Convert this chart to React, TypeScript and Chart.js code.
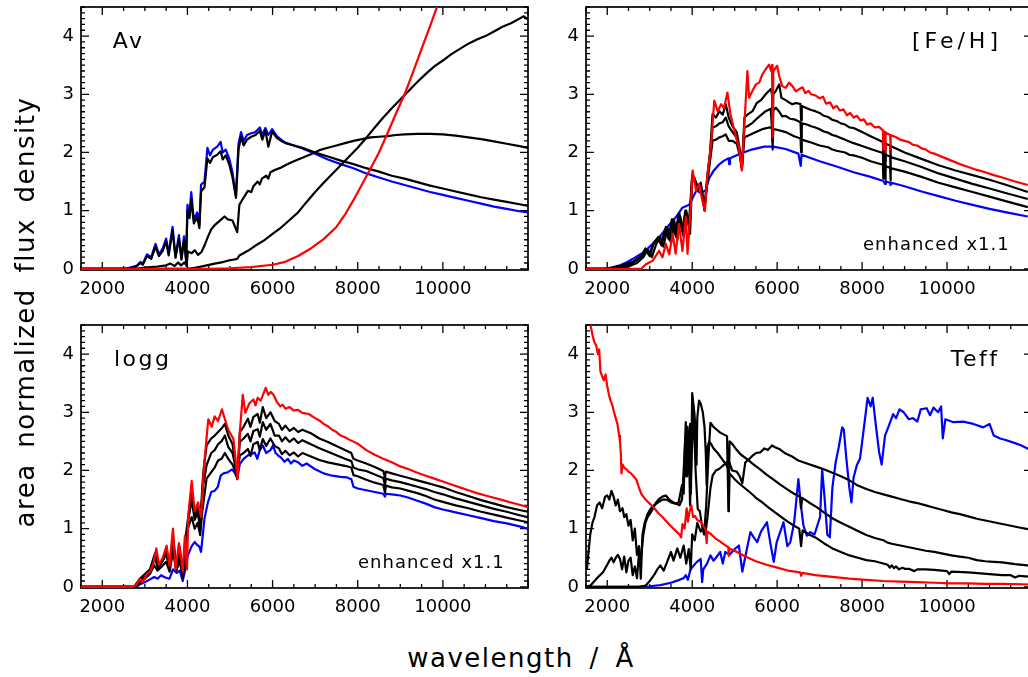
import React, { useEffect, useRef } from 'react';
import { Chart, registerables } from 'chart.js';
Chart.register(...registerables);

type P = [number, number][];

const X_TICKS = [2000, 4000, 6000, 8000, 10000];
const Y_TICKS = [0, 1, 2, 3, 4];
const X_MIN = 1500, X_MAX = 12000, Y_MIN = -0.02, Y_MAX = 4.5;
const FONT = '"DejaVu Sans", "Liberation Sans", sans-serif';

// ---------- Panel "Av" ----------
const AV_BLUE: P = [[1500,0],[2500,0],[2650,0.02],[2800,0.05],[2900,0.12],[2950,0.08],[3050,0.25],[3150,0.2],[3250,0.43],[3330,0.25],[3420,0.35],[3500,0.52],[3560,0.27],[3650,0.72],[3720,0.22],[3800,0.58],[3860,0.18],[3920,0.56],[3970,0.15],[4000,1.1],[4050,0.95],[4090,1.32],[4150,0.85],[4230,0.97],[4280,0.75],[4320,1.45],[4400,1.5],[4470,2.08],[4530,1.95],[4600,2.05],[4700,2.1],[4780,2.18],[4830,2.0],[4900,2.05],[4980,1.9],[5060,1.65],[5140,1.25],[5200,2.15],[5260,2.35],[5320,2.2],[5400,2.3],[5500,2.33],[5600,2.35],[5700,2.43],[5760,2.3],[5830,2.42],[5900,2.3],[5990,2.4],[6100,2.28],[6200,2.22],[6300,2.17],[6500,2.12],[6700,2.07],[7000,1.98],[7300,1.88],[7600,1.8],[7900,1.73],[8200,1.64],[8500,1.57],[8800,1.5],[9100,1.44],[9400,1.38],[9700,1.32],[10000,1.27],[10300,1.22],[10600,1.17],[10900,1.12],[11200,1.07],[11500,1.03],[11800,0.99],[12000,0.97]];
const AV_BLACK1: P = [[1500,0],[2600,0],[2800,0.04],[2900,0.1],[2950,0.07],[3050,0.22],[3150,0.17],[3250,0.38],[3330,0.22],[3420,0.31],[3500,0.47],[3560,0.23],[3650,0.66],[3720,0.19],[3800,0.52],[3860,0.16],[3920,0.5],[3970,0.13],[4000,1.0],[4050,0.87],[4090,1.2],[4150,0.78],[4230,0.9],[4280,0.7],[4320,1.33],[4400,1.4],[4470,1.9],[4530,1.82],[4600,1.92],[4700,1.96],[4780,2.02],[4830,1.88],[4900,1.95],[4980,1.8],[5060,1.57],[5140,1.22],[5200,2.05],[5260,2.27],[5320,2.12],[5400,2.22],[5500,2.27],[5600,2.3],[5700,2.37],[5760,2.22],[5830,2.38],[5900,2.1],[5990,2.36],[6100,2.25],[6200,2.2],[6300,2.16],[6500,2.12],[6700,2.08],[7000,2.0],[7300,1.93],[7600,1.86],[7900,1.8],[8200,1.73],[8500,1.67],[8800,1.6],[9100,1.55],[9400,1.49],[9700,1.43],[10000,1.38],[10300,1.33],[10600,1.28],[10900,1.23],[11200,1.19],[11500,1.15],[11800,1.11],[12000,1.08]];
const AV_BLACK2: P = [[1500,0],[2800,0],[3000,0.02],[3300,0.04],[3500,0.06],[3600,0.09],[3700,0.05],[3780,0.11],[3850,0.06],[3930,0.11],[3980,0.05],[4010,0.3],[4100,0.27],[4170,0.32],[4250,0.24],[4330,0.29],[4400,0.4],[4480,0.55],[4560,0.68],[4640,0.75],[4750,0.82],[4870,0.9],[4950,0.85],[5060,0.83],[5130,0.7],[5170,0.63],[5220,1.1],[5300,1.2],[5420,1.34],[5500,1.32],[5550,1.42],[5650,1.5],[5700,1.45],[5750,1.55],[5850,1.6],[5900,1.55],[5950,1.66],[6050,1.7],[6200,1.74],[6360,1.8],[6500,1.85],[6700,1.91],[6900,1.97],[7100,2.04],[7300,2.08],[7500,2.12],[7700,2.16],[7900,2.2],[8100,2.23],[8300,2.26],[8500,2.27],[8700,2.28],[8900,2.3],[9100,2.31],[9400,2.32],[9700,2.32],[10000,2.31],[10300,2.29],[10600,2.26],[10900,2.23],[11200,2.19],[11500,2.15],[11800,2.11],[12000,2.08]];
const AV_BLACK3: P = [[1500,0],[3500,0],[4000,0],[4200,0.02],[4400,0.05],[4640,0.09],[4800,0.11],[4950,0.14],[5100,0.16],[5170,0.17],[5220,0.23],[5420,0.31],[5600,0.4],[5800,0.49],[6000,0.6],[6200,0.71],[6400,0.84],[6600,0.97],[6800,1.15],[7000,1.32],[7200,1.48],[7400,1.63],[7600,1.78],[7800,1.93],[8000,2.08],[8200,2.25],[8400,2.43],[8600,2.6],[8800,2.76],[9000,2.91],[9200,3.06],[9400,3.21],[9600,3.35],[9800,3.48],[10000,3.58],[10200,3.69],[10400,3.78],[10600,3.87],[10800,3.94],[11000,4.0],[11200,4.08],[11400,4.16],[11600,4.22],[11800,4.3],[11900,4.34],[12000,4.29]];
const AV_RED: P = [[1500,0],[4500,0],[5000,0.01],[5500,0.03],[6000,0.07],[6300,0.12],[6600,0.22],[6900,0.35],[7200,0.51],[7500,0.72],[7700,0.93],[7900,1.18],[8100,1.45],[8300,1.72],[8500,2.0],[8700,2.33],[8900,2.67],[9100,3.0],[9300,3.38],[9500,3.78],[9700,4.17],[9900,4.58]];

// ---------- Panel "[Fe/H]" ----------
const FE_BLUE: P = [[1500,0],[1900,0],[2100,0.02],[2300,0.06],[2450,0.11],[2650,0.19],[2870,0.29],[3070,0.43],[3220,0.54],[3460,0.76],[3620,0.89],[3770,1.05],[3930,1.1],[4000,1.2],[4100,1.35],[4200,1.3],[4320,1.35],[4400,1.56],[4500,1.68],[4630,1.79],[4750,1.86],[4860,1.9],[4870,1.8],[4890,1.9],[5100,1.97],[5400,2.05],[5700,2.1],[5880,2.1],[5895,2.05],[5910,2.1],[6200,2.06],[6500,1.98],[6555,1.77],[6575,1.96],[7000,1.85],[7400,1.76],[7800,1.66],[8200,1.58],[8500,1.51],[8540,1.46],[8560,1.5],[8660,1.48],[8670,1.44],[8690,1.48],[9000,1.42],[9400,1.33],[9800,1.25],[10200,1.17],[10600,1.1],[11000,1.03],[11400,0.97],[11900,0.9]];
const FE_BLACK1: P = [[1500,0],[2000,0],[2300,0.05],[2600,0.12],[2800,0.22],[2900,0.35],[2980,0.25],[3100,0.45],[3200,0.52],[3270,0.42],[3360,0.68],[3440,0.52],[3520,0.85],[3600,0.6],[3680,0.93],[3760,0.65],[3840,1.0],[3920,0.75],[4000,1.58],[4060,1.5],[4130,1.42],[4200,1.45],[4290,1.05],[4350,1.45],[4420,1.85],[4480,2.2],[4560,2.22],[4640,2.26],[4720,2.28],[4790,2.31],[4860,2.2],[4950,2.2],[5050,2.15],[5120,1.95],[5170,1.74],[5230,2.26],[5350,2.3],[5500,2.35],[5650,2.4],[5810,2.43],[5880,2.42],[5893,2.1],[5910,2.4],[6000,2.39],[6200,2.35],[6400,2.28],[6550,2.24],[6565,2.0],[6580,2.22],[6800,2.17],[7000,2.12],[7200,2.09],[7300,2.05],[7400,2.03],[7600,2.0],[7700,1.96],[7800,1.95],[8000,1.91],[8200,1.85],[8490,1.79],[8500,1.55],[8520,1.78],[8540,1.77],[8545,1.53],[8560,1.76],[8660,1.74],[8665,1.52],[8680,1.73],[9000,1.67],[9400,1.58],[9800,1.48],[10200,1.4],[10600,1.32],[11000,1.24],[11400,1.16],[11900,1.06]];
const FE_BLACK2: P = [[1500,0],[2200,0],[2400,0.04],[2600,0.1],[2800,0.2],[2900,0.33],[3000,0.22],[3100,0.45],[3200,0.55],[3280,0.4],[3380,0.72],[3460,0.5],[3540,0.85],[3620,0.55],[3700,0.95],[3780,0.6],[3860,1.0],[3940,0.7],[4000,1.62],[4060,1.55],[4130,1.4],[4200,1.48],[4290,1.02],[4350,1.5],[4420,1.95],[4480,2.43],[4560,2.45],[4640,2.5],[4720,2.52],[4790,2.6],[4860,2.45],[4950,2.35],[5050,2.25],[5120,2.0],[5170,1.71],[5230,2.43],[5300,2.45],[5420,2.51],[5550,2.6],[5730,2.71],[5850,2.75],[5893,2.2],[5910,2.72],[5970,2.77],[6050,2.7],[6120,2.62],[6200,2.63],[6300,2.58],[6400,2.57],[6550,2.52],[6565,2.25],[6580,2.5],[6700,2.48],[6800,2.45],[6900,2.43],[7000,2.4],[7100,2.36],[7200,2.34],[7300,2.3],[7400,2.28],[7600,2.22],[7800,2.16],[8000,2.11],[8200,2.06],[8490,1.99],[8500,1.72],[8520,1.98],[8540,1.97],[8545,1.7],[8560,1.96],[8660,1.93],[8665,1.7],[8680,1.92],[9000,1.85],[9400,1.75],[9800,1.64],[10200,1.55],[10600,1.46],[11000,1.38],[11400,1.3],[11900,1.2]];
const FE_BLACK3: P = [[1500,0],[2300,0],[2500,0.04],[2700,0.1],[2850,0.2],[2950,0.33],[3050,0.2],[3150,0.42],[3250,0.55],[3320,0.38],[3420,0.7],[3500,0.45],[3580,0.82],[3650,0.5],[3720,0.9],[3800,0.55],[3880,0.95],[3950,0.6],[4000,1.6],[4060,1.52],[4130,1.35],[4200,1.45],[4290,1.0],[4350,1.55],[4420,2.0],[4480,2.66],[4560,2.6],[4640,2.71],[4720,2.65],[4790,2.83],[4860,2.6],[4950,2.45],[5050,2.35],[5120,2.05],[5170,1.74],[5230,2.6],[5300,2.65],[5420,2.71],[5520,2.85],[5620,2.9],[5730,3.0],[5850,3.09],[5880,3.0],[5893,2.3],[5910,3.0],[5970,3.06],[6050,3.17],[6100,2.94],[6200,2.9],[6280,2.86],[6360,2.83],[6450,2.85],[6550,2.83],[6565,2.55],[6580,2.8],[6700,2.76],[6800,2.73],[6900,2.71],[7000,2.68],[7100,2.63],[7200,2.61],[7300,2.56],[7400,2.54],[7500,2.5],[7600,2.48],[7700,2.43],[7800,2.42],[8000,2.35],[8200,2.28],[8490,2.18],[8500,1.9],[8520,2.17],[8540,2.16],[8545,1.85],[8560,2.15],[8660,2.12],[8665,1.9],[8680,2.11],[9000,2.0],[9400,1.89],[9800,1.78],[10200,1.69],[10600,1.61],[11000,1.53],[11400,1.44],[11900,1.32]];
const FE_RED: P = [[1500,0],[2800,0],[2910,0.08],[3070,0.14],[3220,0.31],[3300,0.2],[3380,0.43],[3460,0.25],[3540,0.6],[3610,0.26],[3690,0.77],[3770,0.31],[3850,0.89],[3890,0.26],[3970,1.11],[4010,1.69],[4090,1.34],[4165,1.46],[4240,1.17],[4300,1.0],[4360,1.63],[4440,2.09],[4520,2.89],[4600,2.71],[4680,2.83],[4750,2.76],[4830,3.03],[4900,2.66],[5030,2.26],[5100,2.09],[5170,1.69],[5220,2.37],[5300,3.4],[5340,2.94],[5420,3.06],[5500,3.17],[5580,3.2],[5650,3.34],[5730,3.43],[5810,3.51],[5860,3.4],[5880,3.5],[5893,2.26],[5910,3.4],[6000,3.49],[6050,3.31],[6120,3.14],[6200,3.11],[6280,3.2],[6360,3.14],[6440,3.05],[6520,3.09],[6600,3.12],[6660,3.02],[6740,3.06],[6800,3.0],[6900,2.98],[7000,2.93],[7080,2.96],[7150,2.84],[7250,2.86],[7320,2.76],[7400,2.8],[7480,2.72],[7560,2.74],[7640,2.64],[7720,2.68],[7800,2.6],[7880,2.63],[7960,2.55],[8040,2.57],[8120,2.48],[8200,2.5],[8300,2.43],[8400,2.44],[8490,2.38],[8500,2.05],[8520,2.36],[8540,2.35],[8545,2.0],[8560,2.34],[8660,2.3],[8665,2.05],[8680,2.3],[8800,2.26],[8900,2.22],[9000,2.2],[9100,2.18],[9200,2.13],[9300,2.12],[9400,2.07],[9500,2.05],[9600,2.0],[9700,1.98],[9900,1.92],[10100,1.86],[10300,1.8],[10500,1.75],[10700,1.7],[10900,1.66],[11100,1.61],[11300,1.57],[11600,1.5],[11900,1.44]];

// ---------- Panel "logg" ----------
const LG_BLUE: P = [[1500,0],[2800,0],[2900,0.05],[3000,0.08],[3100,0.12],[3220,0.17],[3300,0.14],[3380,0.2],[3480,0.16],[3580,0.14],[3660,0.3],[3750,0.24],[3820,0.28],[3890,0.1],[3950,0.3],[4010,0.54],[4100,0.7],[4170,0.77],[4230,0.72],[4280,0.69],[4320,0.6],[4400,1.17],[4480,1.45],[4560,1.63],[4640,1.65],[4710,1.71],[4780,1.91],[4850,1.95],[4950,1.97],[5050,2.02],[5120,1.95],[5170,1.86],[5230,2.11],[5320,2.2],[5420,2.26],[5500,2.28],[5580,2.31],[5640,2.2],[5700,2.35],[5770,2.43],[5850,2.3],[5950,2.35],[6010,2.43],[6070,2.3],[6125,2.26],[6200,2.22],[6280,2.15],[6360,2.2],[6430,2.12],[6500,2.17],[6600,2.14],[6700,2.08],[6800,2.12],[7000,2.02],[7200,1.95],[7400,1.91],[7600,1.89],[7750,1.88],[7850,1.85],[7900,1.72],[8000,1.69],[8200,1.66],[8400,1.63],[8600,1.6],[8640,1.55],[8660,1.6],[8800,1.59],[9000,1.57],[9200,1.53],[9400,1.48],[9600,1.43],[9800,1.37],[10000,1.33],[10300,1.28],[10600,1.23],[10900,1.18],[11200,1.13],[11500,1.09],[11800,1.04],[12000,1.0]];
const LG_BLACK1: P = [[1500,0],[2800,0],[2900,0.1],[3000,0.14],[3120,0.22],[3220,0.37],[3300,0.28],[3400,0.35],[3500,0.43],[3580,0.26],[3660,0.6],[3740,0.28],[3820,0.45],[3890,0.15],[3950,0.5],[4010,1.0],[4100,1.2],[4170,1.0],[4240,1.1],[4300,0.89],[4350,1.3],[4450,1.86],[4560,1.97],[4640,2.05],[4720,2.17],[4800,2.2],[4880,2.3],[4960,2.2],[5060,2.1],[5130,1.98],[5170,1.9],[5230,2.26],[5320,2.3],[5420,2.37],[5480,2.25],[5550,2.45],[5650,2.49],[5700,2.35],[5770,2.54],[5850,2.42],[5950,2.55],[6050,2.42],[6150,2.38],[6220,2.28],[6300,2.34],[6400,2.26],[6500,2.31],[6600,2.24],[6700,2.3],[6900,2.24],[7100,2.18],[7300,2.14],[7500,2.11],[7700,2.08],[7850,2.05],[7900,1.92],[8000,1.9],[8200,1.84],[8400,1.79],[8600,1.75],[8640,1.62],[8660,1.74],[8800,1.71],[9000,1.69],[9200,1.65],[9400,1.61],[9600,1.56],[9800,1.5],[10000,1.46],[10300,1.4],[10600,1.35],[10900,1.29],[11200,1.24],[11500,1.19],[11800,1.14],[12000,1.11]];
const LG_BLACK2: P = [[1500,0],[2750,0],[2880,0.12],[3000,0.17],[3120,0.26],[3230,0.5],[3310,0.32],[3400,0.42],[3500,0.57],[3580,0.3],[3660,0.8],[3740,0.29],[3820,0.6],[3890,0.2],[3950,0.7],[4010,1.1],[4100,1.5],[4170,1.15],[4240,1.28],[4300,1.0],[4360,1.7],[4450,2.09],[4560,2.3],[4640,2.35],[4720,2.45],[4800,2.5],[4880,2.6],[4960,2.4],[5060,2.3],[5130,2.05],[5170,1.87],[5230,2.49],[5320,2.55],[5420,2.63],[5480,2.5],[5550,2.68],[5650,2.71],[5700,2.58],[5770,2.83],[5850,2.7],[5950,2.8],[6050,2.6],[6150,2.6],[6220,2.5],[6300,2.57],[6400,2.49],[6500,2.55],[6600,2.47],[6700,2.52],[6900,2.45],[7100,2.38],[7300,2.32],[7500,2.26],[7700,2.2],[7850,2.16],[7900,2.05],[8000,2.02],[8200,1.99],[8400,1.93],[8600,1.87],[8640,1.75],[8660,1.86],[8800,1.83],[9000,1.8],[9200,1.76],[9400,1.72],[9600,1.68],[9800,1.63],[10000,1.59],[10300,1.52],[10600,1.46],[10900,1.4],[11200,1.34],[11500,1.29],[11800,1.23],[12000,1.2]];
const LG_BLACK3: P = [[1500,0],[2750,0],[2880,0.14],[3000,0.22],[3120,0.3],[3240,0.58],[3320,0.36],[3420,0.45],[3510,0.64],[3580,0.33],[3660,0.9],[3740,0.3],[3820,0.68],[3890,0.22],[3950,0.8],[4010,1.15],[4100,1.65],[4170,1.22],[4240,1.35],[4300,1.1],[4370,1.95],[4450,2.43],[4560,2.55],[4640,2.6],[4720,2.66],[4800,2.72],[4880,2.8],[4960,2.6],[5060,2.45],[5130,2.1],[5170,1.85],[5230,2.66],[5320,2.75],[5420,2.89],[5480,2.75],[5550,2.92],[5650,2.97],[5700,2.82],[5770,3.09],[5850,2.9],[5950,3.0],[6050,2.85],[6150,2.8],[6220,2.7],[6300,2.77],[6400,2.68],[6500,2.73],[6600,2.66],[6700,2.7],[6900,2.64],[7100,2.55],[7300,2.49],[7500,2.42],[7700,2.35],[7850,2.3],[7900,2.2],[8000,2.17],[8200,2.12],[8400,2.06],[8600,1.99],[8640,1.88],[8660,1.98],[8800,1.95],[9000,1.91],[9200,1.87],[9400,1.83],[9600,1.79],[9800,1.75],[10000,1.71],[10300,1.63],[10600,1.56],[10900,1.49],[11200,1.43],[11500,1.37],[11800,1.32],[12000,1.29]];
const LG_RED: P = [[1500,0],[2700,0],[2800,0.03],[2880,0.14],[2950,0.08],[3050,0.22],[3120,0.26],[3200,0.4],[3270,0.66],[3330,0.38],[3420,0.5],[3510,0.71],[3580,0.36],[3660,1.0],[3720,0.3],[3800,0.75],[3850,0.5],[3890,0.26],[3940,0.88],[3990,0.3],[4020,1.23],[4100,1.82],[4170,1.3],[4250,1.45],[4320,1.2],[4390,2.08],[4490,2.88],[4570,2.75],[4640,2.93],[4720,2.85],[4810,3.05],[4880,2.88],[4960,2.7],[5080,2.54],[5130,2.2],[5175,1.85],[5230,2.65],[5300,3.3],[5360,2.99],[5450,3.15],[5550,3.22],[5600,3.12],[5650,3.25],[5720,3.2],[5790,3.33],[5840,3.42],[5900,3.3],[5960,3.35],[6020,3.3],[6100,3.18],[6180,3.1],[6240,3.13],[6300,3.06],[6400,3.09],[6500,3.03],[6600,3.04],[6700,2.99],[6850,2.97],[7000,2.9],[7100,2.86],[7200,2.8],[7300,2.76],[7400,2.7],[7500,2.66],[7600,2.6],[7700,2.57],[7800,2.53],[8000,2.46],[8200,2.35],[8400,2.27],[8600,2.2],[8800,2.14],[9000,2.07],[9200,2.02],[9400,1.96],[9600,1.91],[9800,1.86],[10000,1.81],[10200,1.76],[10400,1.71],[10600,1.66],[10800,1.61],[11000,1.57],[11200,1.53],[11400,1.49],[11600,1.45],[11800,1.41],[12000,1.37]];

// ---------- Panel "Teff" ----------
const TE_RED: P = [[1560,4.6],[1620,4.45],[1660,4.3],[1700,4.2],[1740,4.15],[1780,4.0],[1810,4.08],[1840,3.7],[1880,3.62],[1920,3.55],[1960,3.65],[2000,3.45],[2040,3.3],[2080,3.2],[2120,3.12],[2160,3.0],[2200,2.9],[2240,2.8],[2280,2.6],[2300,2.5],[2320,2.3],[2335,1.95],[2360,2.1],[2400,2.05],[2450,2.02],[2500,1.98],[2560,1.95],[2620,1.9],[2680,1.85],[2740,1.72],[2800,1.6],[2850,1.55],[2900,1.5],[3000,1.43],[3100,1.36],[3200,1.27],[3300,1.2],[3400,1.12],[3500,1.04],[3600,0.97],[3700,0.9],[3740,0.85],[3770,1.08],[3820,1.0],[3870,1.35],[3900,1.12],[3940,1.3],[3980,1.4],[4020,1.2],[4060,1.22],[4120,1.15],[4200,1.12],[4260,1.05],[4320,0.98],[4340,0.75],[4360,0.95],[4450,0.9],[4550,0.83],[4650,0.78],[4750,0.73],[4850,0.68],[4862,0.53],[4880,0.66],[5000,0.62],[5250,0.52],[5500,0.44],[5750,0.38],[6000,0.33],[6250,0.28],[6540,0.25],[6563,0.19],[6590,0.24],[6900,0.2],[7300,0.17],[7700,0.14],[8100,0.12],[8500,0.1],[8900,0.09],[9300,0.08],[9700,0.07],[10100,0.06],[10500,0.06],[10900,0.05],[11300,0.05],[12000,0.04]];
const TE_BLACK_HOT: P = [[1520,0.3],[1560,0.6],[1600,0.9],[1650,1.1],[1700,1.2],[1760,1.4],[1820,1.45],[1880,1.35],[1950,1.55],[2000,1.57],[2050,1.5],[2100,1.65],[2150,1.55],[2200,1.4],[2250,1.5],[2300,1.3],[2360,1.35],[2400,1.2],[2450,1.25],[2500,1.05],[2550,1.15],[2600,0.8],[2650,1.0],[2700,0.55],[2750,0.7],[2790,0.14],[2830,0.9],[2880,1.1],[2950,1.25],[3020,1.34],[3100,1.4],[3200,1.45],[3300,1.5],[3400,1.5],[3500,1.45],[3600,1.43],[3680,1.45],[3720,1.6],[3760,1.75],[3800,1.6],[3830,2.4],[3860,1.9],[3890,2.75],[3920,2.0],[3950,2.8],[3970,1.6],[4000,3.33],[4050,3.0],[4090,2.6],[4102,2.1],[4120,2.9],[4160,3.2],[4200,3.15],[4250,3.0],[4290,2.75],[4320,2.3],[4340,1.75],[4360,2.4],[4400,2.5],[4450,2.45],[4500,2.38],[4600,2.3],[4700,2.2],[4800,2.1],[4850,2.02],[4861,1.3],[4880,1.95],[5000,1.85],[5100,1.78],[5200,1.72],[5300,1.66],[5400,1.6],[5500,1.53],[5650,1.45],[5800,1.36],[5950,1.28],[6100,1.2],[6250,1.12],[6400,1.05],[6520,1.0],[6563,0.7],[6600,0.97],[6750,0.9],[6900,0.85],[7100,0.75],[7300,0.66],[7500,0.6],[7700,0.54],[7900,0.5],[8100,0.46],[8300,0.44],[8500,0.4],[8600,0.38],[8650,0.33],[8700,0.37],[8750,0.32],[8800,0.35],[8870,0.3],[8950,0.33],[9000,0.31],[9100,0.31],[9230,0.27],[9300,0.3],[9500,0.3],[9700,0.29],[10000,0.27],[10050,0.22],[10100,0.26],[10500,0.25],[11000,0.22],[11300,0.2],[11500,0.2],[11600,0.16],[11700,0.19],[12000,0.17]];
const TE_BLACK_MID: P = [[1500,0],[1600,0.02],[1700,0.1],[1800,0.18],[1900,0.25],[2000,0.38],[2050,0.45],[2100,0.5],[2150,0.42],[2200,0.5],[2250,0.55],[2300,0.48],[2350,0.3],[2400,0.52],[2450,0.25],[2500,0.45],[2550,0.5],[2600,0.2],[2650,0.35],[2700,0.15],[2750,0.6],[2800,0.55],[2850,0.9],[2900,1.1],[2950,1.2],[3000,1.25],[3070,1.34],[3150,1.45],[3220,1.51],[3300,1.55],[3380,1.57],[3460,1.5],[3540,1.46],[3620,1.43],[3700,1.4],[3760,1.5],[3810,2.14],[3850,2.83],[3880,1.9],[3920,2.54],[3950,1.4],[3990,2.3],[4030,3.1],[4080,2.0],[4130,1.34],[4180,1.3],[4230,1.05],[4280,0.9],[4330,1.4],[4380,2.2],[4430,2.82],[4500,2.75],[4580,2.7],[4660,2.65],[4740,2.62],[4820,2.59],[4855,1.3],[4880,2.5],[4950,2.45],[5050,2.35],[5150,2.27],[5300,2.19],[5450,2.1],[5600,2.02],[5750,1.93],[5900,1.85],[6050,1.77],[6230,1.68],[6400,1.6],[6540,1.55],[6563,1.35],[6590,1.53],[6750,1.45],[6930,1.37],[7100,1.28],[7320,1.17],[7500,1.1],[7710,1.03],[7900,0.96],[8100,0.89],[8300,0.84],[8500,0.8],[8600,0.76],[8700,0.74],[8900,0.71],[9100,0.68],[9300,0.65],[9500,0.62],[9700,0.6],[9900,0.57],[10100,0.54],[10300,0.52],[10500,0.5],[10700,0.46],[10900,0.44],[11100,0.43],[11300,0.42],[11600,0.39],[12000,0.36]];
const TE_BLACK_COOL: P = [[1500,0],[2750,0],[2900,0.02],[3000,0.1],[3100,0.2],[3180,0.3],[3250,0.37],[3330,0.28],[3410,0.43],[3500,0.6],[3560,0.45],[3650,0.66],[3720,0.5],[3800,0.71],[3860,0.4],[3920,0.65],[3965,0.3],[4000,0.9],[4060,0.8],[4120,1.1],[4200,0.95],[4250,1.0],[4310,0.9],[4360,1.2],[4430,1.7],[4480,1.91],[4560,2.0],[4640,2.03],[4750,2.1],[4860,2.17],[4940,2.0],[5050,1.98],[5120,1.9],[5180,1.78],[5250,2.14],[5350,2.2],[5430,2.26],[5500,2.3],[5600,2.31],[5700,2.38],[5780,2.35],[5880,2.43],[5950,2.4],[6050,2.37],[6200,2.29],[6350,2.24],[6500,2.17],[6700,2.12],[6900,2.07],[7100,2.02],[7300,1.96],[7500,1.9],[7700,1.83],[7900,1.74],[8100,1.68],[8300,1.63],[8500,1.59],[8700,1.55],[8900,1.51],[9100,1.47],[9300,1.44],[9500,1.4],[9700,1.36],[9900,1.32],[10100,1.28],[10300,1.25],[10500,1.21],[10700,1.17],[10900,1.14],[11100,1.11],[11300,1.08],[11500,1.05],[11700,1.02],[12000,0.98]];
const TE_BLUE: P = [[1500,0],[2700,0],[3000,0.01],[3250,0.03],[3500,0.07],[3700,0.12],[3800,0.15],[3850,0.2],[3900,0.12],[3960,0.3],[4040,0.37],[4100,0.42],[4200,0.48],[4235,0.08],[4260,0.3],[4350,0.4],[4430,0.54],[4500,0.45],[4560,0.5],[4660,0.6],[4720,0.4],[4780,0.6],[4880,0.55],[5000,0.65],[5100,0.71],[5180,0.26],[5290,0.66],[5370,0.94],[5450,0.85],[5530,0.77],[5620,0.95],[5760,1.11],[5840,0.75],[5920,0.43],[5990,0.77],[6150,1.11],[6240,0.7],[6310,0.77],[6400,1.1],[6500,1.85],[6560,1.4],[6620,1.05],[6700,0.88],[6780,0.94],[6880,0.9],[7010,1.2],[7060,2.02],[7120,1.5],[7180,0.9],[7240,0.85],[7300,1.7],[7380,2.15],[7450,2.4],[7530,2.74],[7570,2.7],[7630,2.2],[7700,1.7],[7750,1.45],[7800,1.88],[7880,2.1],[7950,2.2],[8030,2.66],[8130,3.25],[8200,3.1],[8250,3.25],[8320,2.8],[8400,2.32],[8460,2.1],[8540,2.6],[8620,2.75],[8730,2.97],[8800,2.9],[8880,3.05],[8980,3.0],[9100,2.88],[9200,2.9],[9300,2.84],[9380,3.05],[9520,3.07],[9600,2.95],[9680,3.08],[9790,3.0],[9860,3.1],[9900,2.55],[9960,2.88],[10150,2.83],[10380,2.84],[10620,2.8],[10850,2.74],[11000,2.8],[11100,2.6],[11250,2.55],[11400,2.52],[11600,2.47],[11750,2.43],[12000,2.34]];

const RED = '#ff0000', BLUE = '#0000ff', BLACK = '#000000';

type Series = { data: P; color: string };

const framePlugin = {
  id: 'frame',
  beforeDatasetsDraw(chart: any) {
    const o = chart.options.plugins.frame || {};
    const { ctx, chartArea: a, scales } = chart;
    const xs = scales.x, ys = scales.y;
    ctx.save();
    ctx.strokeStyle = '#000';
    ctx.lineWidth = 1.3;
    ctx.beginPath();
    for (let v = X_MIN; v <= X_MAX; v += 500) {
      const px = xs.getPixelForValue(v);
      const len = v % 2000 === 0 ? 8 : 4;
      ctx.moveTo(px, a.bottom); ctx.lineTo(px, a.bottom - len);
      ctx.moveTo(px, a.top); ctx.lineTo(px, a.top + len);
    }
    for (let i = 0; i <= 45; i++) {
      const py = ys.getPixelForValue(i / 10);
      const len = i % 10 === 0 ? 8 : 4;
      ctx.moveTo(a.left, py); ctx.lineTo(a.left + len, py);
      ctx.moveTo(a.right, py); ctx.lineTo(a.right - len, py);
    }
    ctx.stroke();
    ctx.lineWidth = 1.7;
    ctx.strokeRect(a.left, a.top, a.right - a.left, a.bottom - a.top);
    ctx.fillStyle = '#000';
    ctx.textBaseline = 'alphabetic';
    if (o.label) {
      ctx.font = `22px ${FONT}`;
      try { ctx.letterSpacing = o.labelSpacing || '2.5px'; } catch (e) {}
      ctx.textAlign = o.labelAlign;
      ctx.fillText(o.label, a.left + o.labelDx, a.top + 41.3);
    }
    if (o.note) {
      ctx.font = `18px ${FONT}`;
      try { ctx.letterSpacing = '1px'; } catch (e) {}
      ctx.textAlign = 'left';
      ctx.fillText(o.note, a.left + 277, a.top + 243);
    }
    ctx.restore();
  },
};

type PanelProps = {
  left: number; top: number; width: number; height: number; yw: number; padRight: number;
  series: Series[]; label: string; labelAlign: string; labelDx: number; labelSpacing?: string; note?: string;
};

function Panel(p: PanelProps) {
  const ref = useRef<HTMLCanvasElement>(null);
  useEffect(() => {
    const chart = new Chart(ref.current as HTMLCanvasElement, {
      type: 'line',
      data: {
        datasets: p.series.map((s) => ({
          data: s.data.map(([x, y]) => ({ x, y })),
          borderColor: s.color,
          backgroundColor: s.color,
          borderWidth: 2.2,
          borderJoinStyle: 'round',
          pointRadius: 0,
          tension: 0,
          fill: false,
        })),
      },
      options: {
        responsive: false,
        maintainAspectRatio: false,
        animation: false,
        events: [],
        layout: { padding: { left: 0, top: 7, right: p.padRight, bottom: 0 } },
        plugins: {
          legend: { display: false },
          tooltip: { enabled: false },
          frame: { label: p.label, labelAlign: p.labelAlign, labelDx: p.labelDx, labelSpacing: p.labelSpacing, note: p.note },
        } as any,
        scales: {
          x: {
            type: 'linear', min: X_MIN, max: X_MAX,
            grid: { display: false, drawTicks: false }, border: { display: false },
            ticks: { font: { family: FONT, size: 18 }, color: '#000', padding: 9, maxRotation: 0, autoSkip: false, callback: (v: any) => String(v) },
            afterBuildTicks: (s: any) => { s.ticks = X_TICKS.map((v) => ({ value: v })); },
            afterFit: (s: any) => { s.height = 35; s.paddingLeft = 0; s.paddingRight = 0; },
          },
          y: {
            type: 'linear', min: Y_MIN, max: Y_MAX,
            grid: { display: false, drawTicks: false }, border: { display: false },
            ticks: { font: { family: FONT, size: 18 }, color: '#000', padding: 7, autoSkip: false, callback: (v: any) => String(v) },
            afterBuildTicks: (s: any) => { s.ticks = Y_TICKS.map((v) => ({ value: v })); },
            afterFit: (s: any) => { s.width = p.yw; s.paddingTop = 0; s.paddingBottom = 0; },
          },
        } as any,
      },
      plugins: [framePlugin as any],
    });
    return () => chart.destroy();
  }, []);
  return (
    <canvas
      ref={ref}
      width={p.width}
      height={p.height}
      style={{ position: 'absolute', left: p.left, top: p.top, width: p.width, height: p.height }}
    />
  );
}

export default function App() {
  const titleStyle: React.CSSProperties = {
    position: 'absolute', fontFamily: FONT, fontSize: 26, lineHeight: '26px',
    letterSpacing: '1.5px', wordSpacing: '6px', color: '#000', whiteSpace: 'nowrap', textAlign: 'center',
  };
  return (
    <div style={{ position: 'absolute', left: 0, top: 0, width: 1028, height: 677, overflow: 'hidden', background: '#fff' }}>
      <Panel left={0} top={0} width={540} height={305} yw={81} padRight={12}
        label="Av" labelAlign="left" labelDx={31.7}
        series={[
          { data: AV_RED, color: RED },
          { data: AV_BLACK3, color: BLACK },
          { data: AV_BLACK2, color: BLACK },
          { data: AV_BLACK1, color: BLACK },
          { data: AV_BLUE, color: BLUE },
        ]} />
      <Panel left={540} top={0} width={500} height={305} yw={46} padRight={8}
        label="[Fe/H]" labelAlign="right" labelDx={416} labelSpacing="4px" note="enhanced x1.1"
        series={[
          { data: FE_RED, color: RED },
          { data: FE_BLACK3, color: BLACK },
          { data: FE_BLACK2, color: BLACK },
          { data: FE_BLACK1, color: BLACK },
          { data: FE_BLUE, color: BLUE },
        ]} />
      <Panel left={0} top={318} width={540} height={305} yw={81} padRight={12}
        label="logg" labelAlign="left" labelDx={33} note="enhanced x1.1"
        series={[
          { data: LG_RED, color: RED },
          { data: LG_BLACK3, color: BLACK },
          { data: LG_BLACK2, color: BLACK },
          { data: LG_BLACK1, color: BLACK },
          { data: LG_BLUE, color: BLUE },
        ]} />
      <Panel left={540} top={318} width={500} height={305} yw={46} padRight={8}
        label="Teff" labelAlign="right" labelDx={413.5}
        series={[
          { data: TE_RED, color: RED },
          { data: TE_BLACK_HOT, color: BLACK },
          { data: TE_BLACK_MID, color: BLACK },
          { data: TE_BLACK_COOL, color: BLACK },
          { data: TE_BLUE, color: BLUE },
        ]} />
      <div style={{ ...titleStyle, left: 0, width: 1042, top: 645 }}>wavelength / Å</div>
      <div style={{ ...titleStyle, left: 25 - 300, top: 312 - 13, width: 600, height: 26, transform: 'rotate(-90deg)' }}>
        area normalized flux density
      </div>
    </div>
  );
}
